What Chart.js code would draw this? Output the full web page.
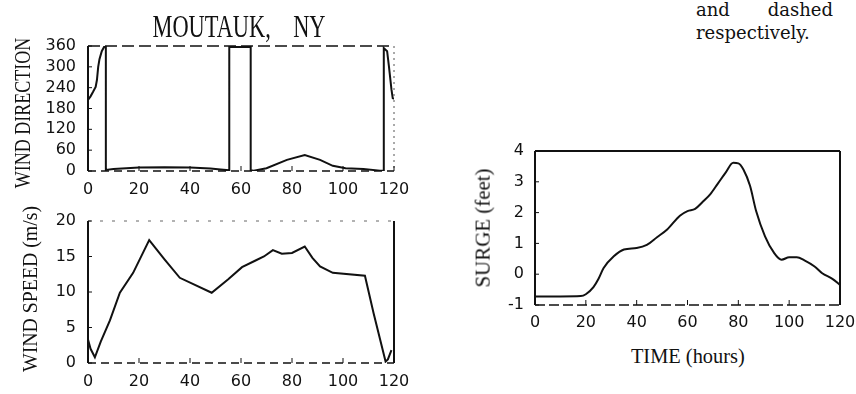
<!DOCTYPE html>
<html>
<head>
<meta charset="utf-8">
<script src="https://cdn.jsdelivr.net/npm/chart.js@4.4.1/dist/chart.umd.min.js"></script>
<style>
  html, body { margin: 0; padding: 0; background: #fff; }
  body { width: 856px; height: 394px; position: relative; overflow: hidden; }
  .box { position: absolute; }
  canvas { display: block; }
  .lbl { position: absolute; font-family: "Liberation Serif", "Times New Roman", serif; color: #111; white-space: pre; line-height: 1; }
  .para { position: absolute; font-family: "DejaVu Serif", serif; font-size: 18px; line-height: 23px; color: #111; }
</style>
</head>
<body>

<div class="box" style="left:0;top:0;width:430px;height:205px"><canvas id="dir" width="430" height="205"></canvas></div>
<div class="box" style="left:0;top:190px;width:430px;height:204px"><canvas id="spd" width="430" height="204"></canvas></div>
<div class="box" style="left:440px;top:120px;width:440px;height:220px"><canvas id="surge" width="440" height="220"></canvas></div>

<div class="lbl" id="title" style="font-size:32px;left:89px;top:10px;width:300px;text-align:center;transform:scaleX(0.7)">MOUTAUK,    NY</div>
<div class="lbl" id="ydir" style="font-size:24px">WIND DIRECTION</div>
<div class="lbl" id="yspd" style="font-size:22px">WIND SPEED (m/s)</div>
<div class="lbl" id="ysurge" style="font-size:22px">SURGE (feet)</div>
<div class="lbl" id="xsurge" style="font-size:20px">TIME (hours)</div>

<div class="para" style="left:696px;top:-2px;width:137px;text-align:justify;text-align-last:justify">and dashed</div>
<div class="para" style="left:696px;top:21px">respectively.</div>

<script>
// wind direction (degrees) vs time (hours)
const dirHours = [0, 1, 2, 3, 3.5, 4, 4.5, 5.4, 6.5, 7, 7, 10, 20, 30, 40, 48, 52, 55.4, 55.4, 63.8, 63.8, 65, 70, 78, 85, 91, 96, 101, 108, 114.5, 116, 116, 117.3, 118, 119, 119.5, 120];
const dirDeg   = [205, 215, 228, 242, 262, 300, 322, 345, 360, 360, 3, 6, 10, 11, 10, 7, 4, 2, 357, 357, 2, 1, 8, 32, 46, 32, 15, 8, 6, 1, 1, 354, 345, 302, 235, 210, 208];

// wind speed (m/s)
const spdHours = [0, 1, 2.7, 5, 8.6, 12.5, 17.7, 24, 30, 36, 48.5, 55, 60.4, 65.5, 69, 72.5, 76, 80, 85, 88, 91, 96, 108.6, 112, 116.7, 117.6, 119];
const spdVals  = [3.3, 2, 0.8, 3, 6, 9.9, 12.7, 17.3, 14.6, 12, 9.9, 11.8, 13.5, 14.4, 15, 15.9, 15.4, 15.5, 16.4, 14.8, 13.6, 12.7, 12.3, 7, 0.2, 0.5, 1.8];

// surge (feet)
const surgeHours = [0, 10, 18, 20, 23, 25, 27, 31, 35, 40, 44, 48, 52, 57, 60, 63, 66, 69, 72, 75, 78, 80, 82, 84.6, 87, 90.5, 94, 97, 100, 103, 106, 110, 113, 117, 120];
const surgeFeet  = [-0.72, -0.72, -0.71, -0.65, -0.42, -0.15, 0.2, 0.58, 0.8, 0.85, 0.95, 1.2, 1.45, 1.9, 2.05, 2.12, 2.35, 2.6, 2.95, 3.3, 3.62, 3.6, 3.4, 2.87, 2.05, 1.23, 0.7, 0.47, 0.55, 0.55, 0.45, 0.25, 0.03, -0.15, -0.35];

const hourRange = { min: 0, max: 120, step: 20 };
const dirRange = { min: 0, max: 360, step: 60 };
const spdRange = { min: 0, max: 20, step: 5 };
const surgeRange = { min: -1, max: 4, step: 1 };

const ink = '#111';
const tickFont = { family: 'DejaVu Sans', size: 16 };

// draws the box round the plot area, each side with its own dash
const framePlugin = {
    id: 'frame',
    afterDatasetsDraw(chart, args, opts) {
        const { ctx, chartArea: a } = chart;
        const sides = {
            top: [a.left, a.top, a.right, a.top],
            right: [a.right, a.top, a.right, a.bottom],
            bottom: [a.left, a.bottom, a.right, a.bottom],
            left: [a.left, a.top, a.left, a.bottom]
        };
        ctx.save();
        Object.keys(sides).forEach(side => {
            const s = opts[side];
            if (!s) return;
            const [x1, y1, x2, y2] = sides[side];
            ctx.beginPath();
            ctx.strokeStyle = s.color || ink;
            ctx.lineWidth = s.width || 1.5;
            ctx.setLineDash(s.dash || []);
            ctx.moveTo(x1, y1);
            ctx.lineTo(x2, y2);
            ctx.stroke();
        });

        // small inside ticks
        ctx.setLineDash([]);
        ctx.lineWidth = 1;
        ctx.strokeStyle = ink;
        const xs = chart.scales.x, ys = chart.scales.y;
        xs.ticks.forEach(t => {
            const px = xs.getPixelForValue(t.value);
            ctx.beginPath();
            ctx.moveTo(px, a.bottom);
            ctx.lineTo(px, a.bottom - 5);
            ctx.stroke();
        });
        ys.ticks.forEach(t => {
            const py = ys.getPixelForValue(t.value);
            ctx.beginPath();
            ctx.moveTo(a.left, py);
            ctx.lineTo(a.left + 4, py);
            ctx.stroke();
        });
        ctx.restore();
    }
};

// cfg.area is where the plot box should sit inside the canvas
const makeChart = (id, hours, values, range, cfg) => {
    const pts = hours.map((h, i) => ({ x: h, y: values[i] }));
    const canvas = document.getElementById(id);
    return new Chart(canvas, {
        type: 'line',
        data: {
            datasets: [{
                data: pts,
                borderColor: ink,
                borderWidth: 2,
                pointRadius: 0,
                fill: false,
                tension: cfg.smooth ? 0.4 : 0,
                cubicInterpolationMode: cfg.smooth ? 'monotone' : 'default'
            }]
        },
        options: {
            responsive: false,
            animation: false,
            devicePixelRatio: 1,
            layout: { padding: { top: cfg.area.top, right: canvas.width - cfg.area.right, left: 0, bottom: 0 } },
            plugins: {
                legend: { display: false },
                tooltip: { enabled: false },
                frame: cfg.frame
            },
            scales: {
                x: {
                    type: 'linear',
                    min: hourRange.min,
                    max: hourRange.max,
                    ticks: { stepSize: hourRange.step, font: tickFont, color: ink, padding: cfg.xPad, maxRotation: 0, autoSkip: false },
                    grid: { display: false, drawTicks: false },
                    border: { display: false },
                    afterFit: s => { s.height = canvas.height - cfg.area.bottom; }
                },
                y: {
                    min: range.min,
                    max: range.max,
                    ticks: { stepSize: range.step, font: tickFont, color: ink, padding: cfg.yPad, autoSkip: false },
                    grid: { display: false, drawTicks: false },
                    border: { display: false },
                    afterFit: s => { s.width = cfg.area.left; }
                }
            }
        },
        plugins: [framePlugin]
    });
};

makeChart('dir', dirHours, dirDeg, dirRange, {
    area: { left: 88, top: 46, right: 394, bottom: 171 }, xPad: 9, yPad: 12,
    frame: {
        top: { dash: [12, 5], width: 1.5 },
        right: { dash: [2, 4], width: 1, color: '#555' },
        bottom: { dash: [8, 5], width: 1.5 },
        left: { width: 2 }
    }
});

makeChart('spd', spdHours, spdVals, spdRange, {
    area: { left: 88, top: 31, right: 394, bottom: 173 }, xPad: 9, yPad: 12,
    frame: {
        top: { dash: [3, 9], width: 1, color: '#666' },
        right: { width: 2 },
        bottom: { dash: [8, 5], width: 1.5 },
        left: { width: 2 }
    }
});

makeChart('surge', surgeHours, surgeFeet, surgeRange, {
    area: { left: 95, top: 31, right: 400, bottom: 185 }, xPad: 8, yPad: 11, smooth: true,
    frame: {
        top: { width: 2 },
        right: { width: 2 },
        bottom: { dash: [10, 4], width: 1.5 },
        left: { width: 2 }
    }
});

// rotated / condensed axis titles
const placeText = (id, cx, cy, rotate, sx) => {
    const el = document.getElementById(id);
    const w = el.offsetWidth, h = el.offsetHeight;
    el.style.left = (cx - w / 2) + 'px';
    el.style.top = (cy - h / 2) + 'px';
    el.style.transform = (rotate ? 'rotate(-90deg) ' : '') + `scaleX(${sx})`;
};
placeText('ydir', 22, 113, true, 0.75);
placeText('yspd', 30, 289, true, 0.9);
placeText('ysurge', 482, 228, true, 0.95);
placeText('xsurge', 688, 356, false, 1.02);
</script>
</body>
</html>
